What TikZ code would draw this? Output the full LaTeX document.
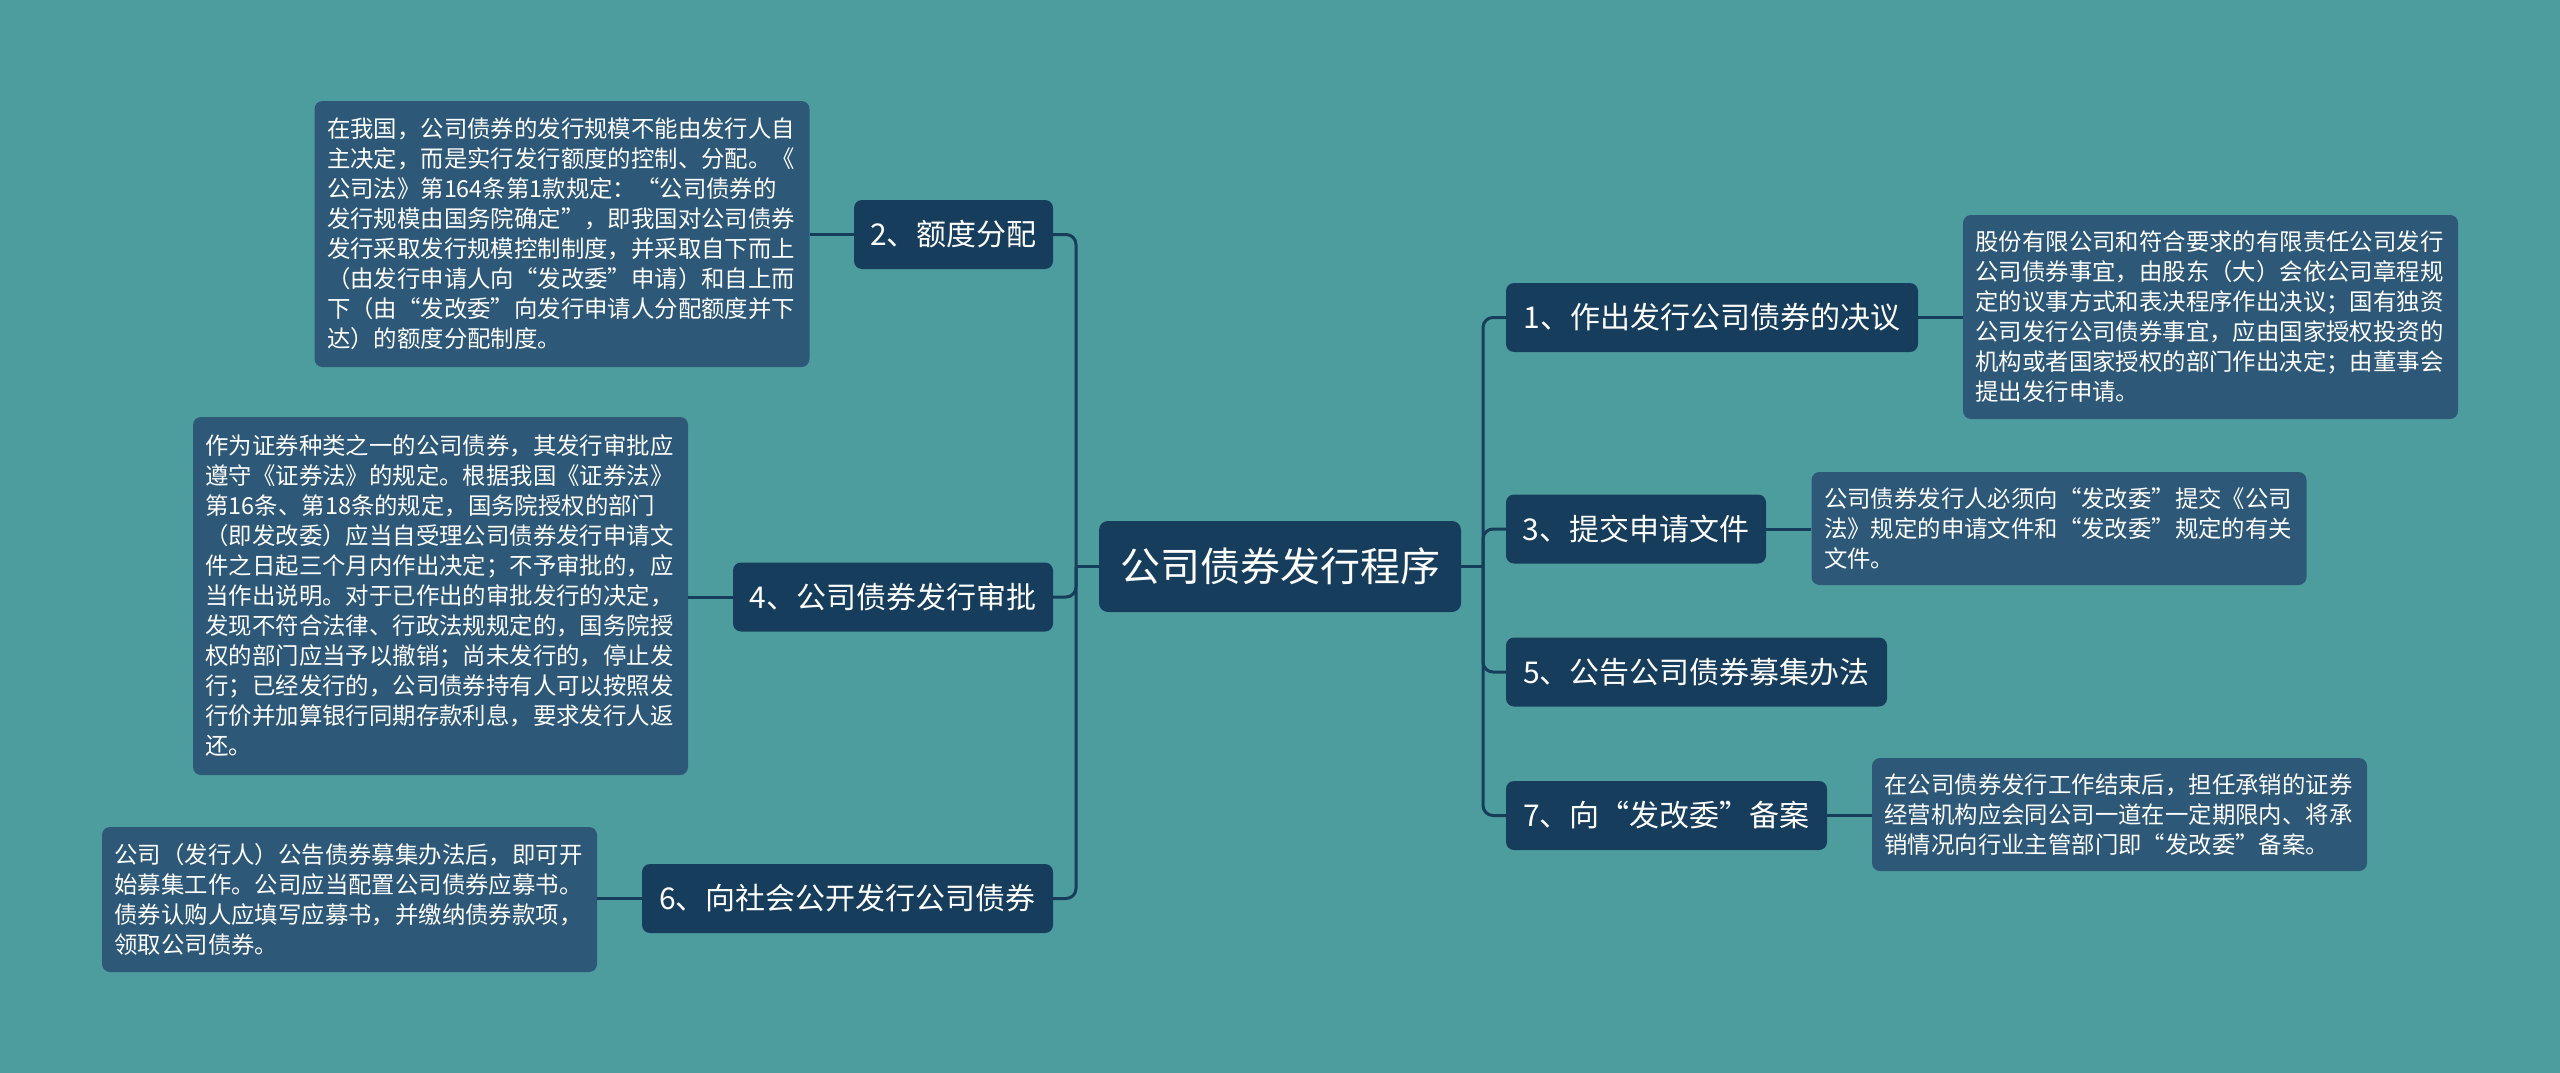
\documentclass[tikz,border=0pt]{standalone}
\usepackage{fontspec}
\setmainfont{Noto Sans CJK SC}
\definecolor{bgc}{RGB}{78,157,158}
\definecolor{navy}{RGB}{23,61,92}
\definecolor{detailc}{RGB}{45,88,120}
\definecolor{linec}{RGB}{22,62,90}
\begin{document}
\begin{tikzpicture}[x=1pt,y=-1pt,
  mainbox/.style={fill=navy, rounded corners=9pt, text=white, font=\fontsize{40}{48}\selectfont, minimum width=362pt, minimum height=91pt, inner sep=0pt},
  topicbox/.style={fill=navy, rounded corners=8pt, text=white, font=\fontsize{30}{36}\selectfont, minimum height=69pt, inner sep=0pt},
  detailbox/.style={fill=detailc, rounded corners=8pt, text=white, font=\fontsize{23.4}{30}\selectfont, text width=470pt, align=left, inner xsep=12.5pt, inner ysep=0pt},
  conn/.style={draw=linec, line width=3pt, rounded corners=10pt}]
\fill[bgc] (0,0) rectangle (2560,1073);
\useasboundingbox (0,0) rectangle (2560,1073);

% center
\node[mainbox] (c) at (1280,566.5) {公司债券发行程序};

% right topics
\node[topicbox, minimum width=412pt] (n1) at (1712,317.5) {1、作出发行公司债券的决议};
\node[topicbox, minimum width=260pt] (n3) at (1636,529) {3、提交申请文件};
\node[topicbox, minimum width=381pt] (n5) at (1696.5,672) {5、公告公司债券募集办法};
\node[topicbox, minimum width=321pt] (n7) at (1666.5,815.5) {7、向“发改委”备案};

% left topics
\node[topicbox, minimum width=199pt] (n2) at (953.5,234.5) {2、额度分配};
\node[topicbox, minimum width=320pt] (n4) at (893,597) {4、公司债券发行审批};
\node[topicbox, minimum width=411pt] (n6) at (847.5,898.5) {6、向社会公开发行公司债券};

% details right
\node[detailbox, minimum height=204pt] (d1) at (2210.5,317) {股份有限公司和符合要求的有限责任公司发行\\公司债券事宜，由股东（大）会依公司章程规\\定的议事方式和表决程序作出决议；国有独资\\公司发行公司债券事宜，应由国家授权投资的\\机构或者国家授权的部门作出决定；由董事会\\提出发行申请。};
\node[detailbox, minimum height=113pt] (d3) at (2059,528.5) {公司债券发行人必须向“发改委”提交《公司\\法》规定的申请文件和“发改委”规定的有关\\文件。};
\node[detailbox, minimum height=113pt] (d7) at (2119.5,814.5) {在公司债券发行工作结束后，担任承销的证券\\经营机构应会同公司一道在一定期限内、将承\\销情况向行业主管部门即“发改委”备案。};

% details left
\node[detailbox, minimum height=266pt] (d2) at (562,234) {在我国，公司债券的发行规模不能由发行人自\\主决定，而是实行发行额度的控制、分配。《\\公司法》第164条第1款规定：“公司债券的\\发行规模由国务院确定”，即我国对公司债券\\发行采取发行规模控制制度，并采取自下而上\\（由发行申请人向“发改委”申请）和自上而\\下（由“发改委”向发行申请人分配额度并下\\达）的额度分配制度。};
\node[detailbox, minimum height=358pt] (d4) at (440.5,596) {作为证券种类之一的公司债券，其发行审批应\\遵守《证券法》的规定。根据我国《证券法》\\第16条、第18条的规定，国务院授权的部门\\（即发改委）应当自受理公司债券发行申请文\\件之日起三个月内作出决定；不予审批的，应\\当作出说明。对于已作出的审批发行的决定，\\发现不符合法律、行政法规规定的，国务院授\\权的部门应当予以撤销；尚未发行的，停止发\\行；已经发行的，公司债券持有人可以按照发\\行价并加算银行同期存款利息，要求发行人返\\还。};
\node[detailbox, minimum height=145pt] (d6) at (349.5,899.5) {公司（发行人）公告债券募集办法后，即可开\\始募集工作。公司应当配置公司债券应募书。\\债券认购人应填写应募书，并缴纳债券款项，\\领取公司债券。};

% bracket coordinates
\coordinate (rb) at (1483,566.5);
\coordinate (lb) at (1076,566.5);

\begin{scope}[on background layer/.style={}]
\draw[conn] (c.east) -- (rb);
\draw[conn] (c.west) -- (lb);
\draw[conn] (rb) |- (n1.west);
\draw[conn] (rb) |- (n3.west);
\draw[conn] (rb) |- (n5.west);
\draw[conn] (rb) |- (n7.west);
\draw[conn] (lb) |- (n2.east);
\draw[conn] (lb) |- (n4.east);
\draw[conn] (lb) |- (n6.east);
\draw[conn] (n1.east) -- (n1.east -| d1.west);
\draw[conn] (n3.east) -- (n3.east -| d3.west);
\draw[conn] (n7.east) -- (n7.east -| d7.west);
\draw[conn] (n2.west) -- (n2.west -| d2.east);
\draw[conn] (n4.west) -- (n4.west -| d4.east);
\draw[conn] (n6.west) -- (n6.west -| d6.east);
\end{scope}
\end{tikzpicture}
\end{document}
